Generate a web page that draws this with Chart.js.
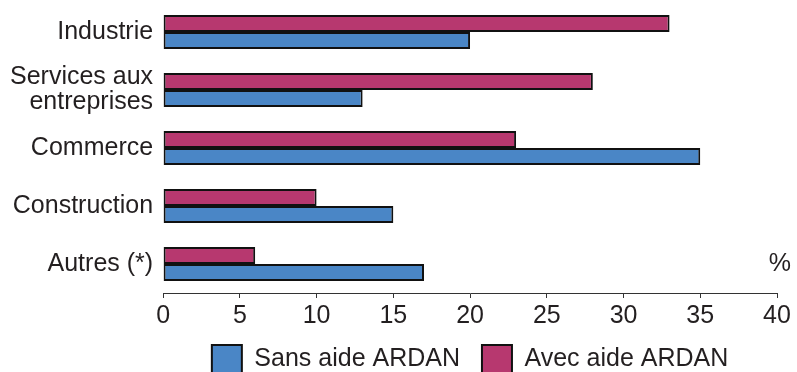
<!DOCTYPE html>
<html>
<head>
<meta charset="utf-8">
<script src="https://cdn.jsdelivr.net/npm/chart.js@4/dist/chart.umd.min.js"></script>
<style>
  html, body { margin: 0; padding: 0; background: #ffffff; }
  #wrap { width: 797px; height: 372px; position: relative; }
</style>
</head>
<body>
<div id="wrap"><canvas id="c"></canvas></div>
<script>
// Sectors (y axis) and shares in % for each group of firms
const categories = ["Industrie", ["Services aux", "entreprises"], "Commerce", "Construction", "Autres (*)"];
const avecAide = [33, 28, 23, 10, 6];
const sansAide = [20, 13, 35, 15, 17];
const xTicks = [0, 5, 10, 15, 20, 25, 30, 35, 40];
const unitLabel = "%";

const textColor = "#231f20";
const fontFamily = "'Liberation Sans', Arial, sans-serif";
const fontSize = 25;

// Unit label drawn at the right end of the last category row
const unitPlugin = {
  id: "unitLabel",
  afterDraw(chart) {
    const ctx = chart.ctx;
    const y = chart.scales.y.getPixelForValue(categories.length - 1);
    ctx.save();
    ctx.font = fontSize + "px " + fontFamily;
    ctx.fillStyle = textColor;
    ctx.textAlign = "right";
    ctx.textBaseline = "middle";
    ctx.fillText(unitLabel, chart.width - 6, y);
    ctx.restore();
  }
};

new Chart(document.getElementById("c"), {
  type: "bar",
  data: {
    labels: categories,
    datasets: [
      {
        label: "Avec aide ARDAN",
        data: avecAide,
        backgroundColor: "#b7386f",
        borderColor: "#111111",
        borderWidth: 2,
        borderSkipped: false
      },
      {
        label: "Sans aide ARDAN",
        data: sansAide,
        backgroundColor: "#4a86c6",
        borderColor: "#111111",
        borderWidth: 2,
        borderSkipped: false
      }
    ]
  },
  options: {
    indexAxis: "y",
    responsive: true,
    maintainAspectRatio: false,
    animation: false,
    datasets: { bar: { barPercentage: 1, categoryPercentage: 0.59 } },
    layout: { padding: { top: 3, right: 20, left: 0, bottom: -11 } },
    scales: {
      x: {
        min: 0,
        max: 40,
        afterBuildTicks(scale) { scale.ticks = xTicks.map(v => ({ value: v })); },
        // tick labels may overlap the legend's top padding; right margin comes from the layout
        afterFit(scale) { scale.height -= 4; scale.paddingRight = 0; },
        grid: { drawOnChartArea: false, drawTicks: true, tickLength: 5, color: "#333333", lineWidth: 1 },
        border: { display: true, color: "#333333", width: 1 },
        ticks: { color: textColor, font: { family: fontFamily, size: fontSize, lineHeight: 0.8 }, padding: 8, maxRotation: 0 }
      },
      y: {
        grid: { display: false, drawTicks: false },
        border: { display: false },
        ticks: { color: textColor, font: { family: fontFamily, size: fontSize, lineHeight: 1.0 }, padding: 10, autoSkip: false },
        afterFit(scale) { scale.paddingTop = 0; scale.paddingBottom = 0; }
      }
    },
    plugins: {
      legend: {
        position: "bottom",
        fullSize: false,
        labels: {
          color: textColor,
          font: { family: fontFamily, size: fontSize },
          boxWidth: 30,
          boxHeight: 28,
          padding: 15,
          // Legend lists the "Sans" series first; a trailing space widens the gap between entries
          generateLabels(chart) {
            const order = [1, 0];
            return order.map((i, k) => {
              const ds = chart.data.datasets[i];
              return {
                text: k < order.length - 1 ? ds.label + " " : ds.label,
                fillStyle: ds.backgroundColor,
                strokeStyle: "#111111",
                lineWidth: 2,
                datasetIndex: i,
                fontColor: textColor
              };
            });
          }
        }
      },
      tooltip: { enabled: false }
    }
  },
  plugins: [unitPlugin]
});
</script>
</body>
</html>
